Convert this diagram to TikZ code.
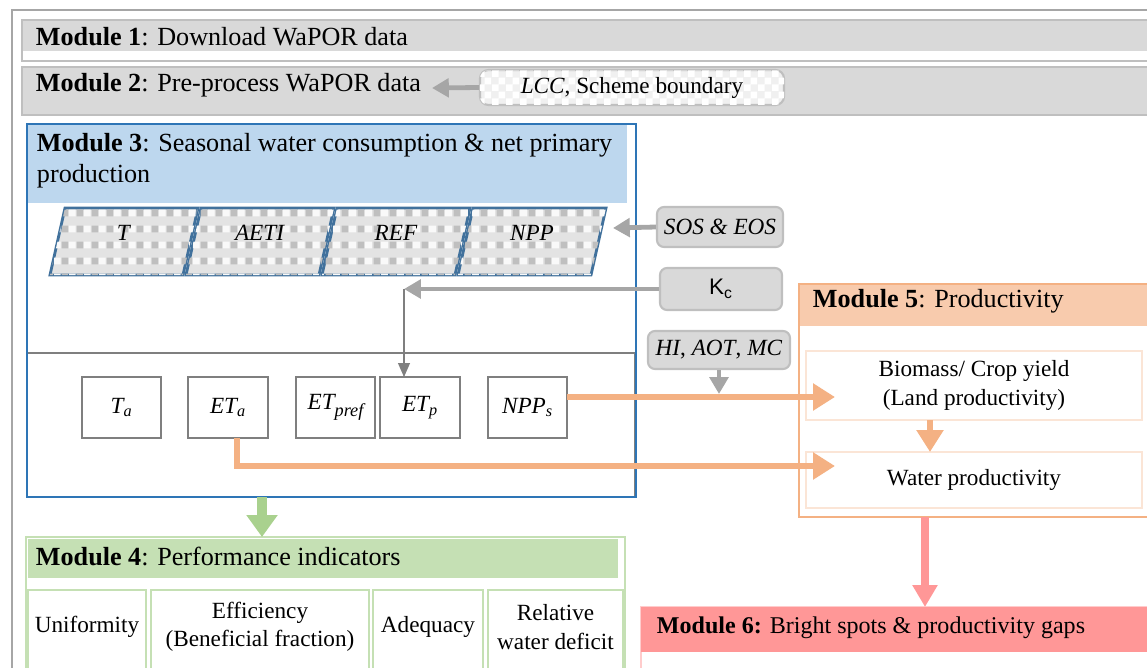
\documentclass[tikz,border=0pt]{standalone}
\usepackage{fontspec}
\setmainfont{Liberation Serif}
\setsansfont{Liberation Sans}
\usetikzlibrary{arrows.meta,fit,patterns}

\definecolor{framegray}{HTML}{A6A6A6}
\definecolor{barfill}{HTML}{D9D9D9}
\definecolor{barline}{HTML}{BFBFBF}
\definecolor{boxgray}{HTML}{7F7F7F}
\definecolor{mthree}{HTML}{2E75B6}
\definecolor{mthreefill}{HTML}{BDD7EE}
\definecolor{parline}{HTML}{41719C}
\definecolor{mfive}{HTML}{F4B183}
\definecolor{mfivefill}{HTML}{F8CBAD}
\definecolor{mfivebox}{HTML}{FBE5D6}
\definecolor{mfour}{HTML}{A9D18E}
\definecolor{mfourfill}{HTML}{C5E0B4}
\definecolor{msix}{HTML}{FF9797}
\definecolor{msixline}{HTML}{FFCCCC}

% checker for the input layers
\pgfdeclarepatternformonly{checks}{\pgfqpoint{0pt}{0pt}}{\pgfqpoint{10pt}{10pt}}{\pgfqpoint{10pt}{10pt}}{%
  \pgfpathrectangle{\pgfqpoint{0pt}{0pt}}{\pgfqpoint{5pt}{5pt}}%
  \pgfpathrectangle{\pgfqpoint{5pt}{5pt}}{\pgfqpoint{5pt}{5pt}}%
  \pgfusepath{fill}}
% tile rows for the seasonal layers
\pgfdeclarepatternformonly{tilesdark}{\pgfqpoint{0pt}{0pt}}{\pgfqpoint{11pt}{11pt}}{\pgfqpoint{11pt}{11pt}}{%
  \pgfpathrectangle{\pgfqpoint{0.5pt}{0.5pt}}{\pgfqpoint{4.8pt}{4.8pt}}%
  \pgfusepath{fill}}
\pgfdeclarepatternformonly{tileslight}{\pgfqpoint{0pt}{0pt}}{\pgfqpoint{11pt}{11pt}}{\pgfqpoint{11pt}{11pt}}{%
  \pgfpathrectangle{\pgfqpoint{6pt}{0.5pt}}{\pgfqpoint{4.8pt}{4.8pt}}%
  \pgfusepath{fill}}

\begin{document}
\begin{tikzpicture}[x=0.025cm,y=-0.025cm,
  hd/.style={anchor=west,font=\fontsize{18.6}{22}\selectfont},
  txt/.style={font=\fontsize{16.5}{20}\selectfont},
  fbox/.style={inner sep=0pt},
  smallbox/.style={fbox,draw=boxgray,line width=1.5pt,fill=white,txt},
  inbox/.style={fbox,draw=barline,line width=1.5pt,fill=barfill,rounded corners=5pt,txt},
  grayarrow/.style={draw=framegray,line width=0.12cm,-{Triangle[length=0.42cm,width=0.46cm]}},
  orangearrow/.style={draw=mfive,line width=0.15cm,-{Triangle[length=0.55cm,width=0.65cm]}}]
\useasboundingbox (0,0) rectangle (1147,667);

% outer frame
\draw[framegray,line width=2pt] (12,10) rectangle (1170,690);

% module 1 and 2
\node[fit={(22,20) (1160,61)},fbox,draw=barline,line width=1pt] (m1) {};
\fill[barfill] (22.5,20.5) rectangle (1160,51);
\node[hd] (m1t) at (31,37) {\textbf{Module 1}: Download WaPOR data};
\node[fit={(22,67) (1160,115)},fbox,draw=barline,fill=barfill,line width=1pt] (m2) {};
\node[hd] (m2t) at (31,85) {\textbf{Module 2}: Pre-process WaPOR data};
\node[fit={(480,70) (784,105)},fbox,draw=barline,line width=1.5pt,rounded corners=6pt,
  fill=barfill!40,postaction={pattern=checks,pattern color=white}] (lcc) {};
\node[txt] at (lcc) {\textit{LCC}, Scheme boundary};
\coordinate (m2in) at (432,88);
\draw[grayarrow] (lcc.west) -- (m2in);

% module 3
\fill[mthreefill] (27,124) rectangle (627,203);
\node[anchor=north west,align=left,hd,anchor=north west] (m3t) at (32,128)
  {\textbf{Module 3}: Seasonal water consumption \& net primary\\production};
\node[fit={(27,353) (635,497)},fbox,draw=boxgray,line width=1.5pt] (m3low) {};
\node[fit={(27,124) (636,497)},fbox,draw=mthree,line width=1.5pt] (m3) {};

% seasonal layers
\foreach \x/\name/\lab in {50/t/T, 186/aeti/AETI, 322/ref/REF, 458/npp/NPP}{
  \filldraw[draw=parline,line width=2pt,fill=gray!22,
    postaction={pattern=tilesdark,pattern color=barline},
    postaction={pattern=tileslight,pattern color=gray!5}]
    (\x,275) -- (\x+15,208) -- (\x+148,208) -- (\x+133,275) -- cycle;
  \node[txt] (\name) at (\x+74,233) {\textit{\lab}};
}

\node[fit={(657,207) (783,247)},inbox] (sos) {};
\node[txt] at (sos) {\textit{SOS \& EOS}};
\coordinate (nppin) at (613,228);
\draw[grayarrow] (sos.west) -- (nppin);

\node[fit={(660,268) (782,310)},inbox] (kc) {};
\node[font=\sffamily\fontsize{16}{19}\selectfont] at (kc) {K\textsubscript{c}};

% seasonal values
\node[fit={(82,377) (161,438)},smallbox] (ta) {};
\node[txt] at (ta) {\textit{T\textsubscript{a}}};
\node[fit={(188,377) (268,438)},smallbox] (eta) {};
\node[txt] at (eta) {\textit{ET\textsubscript{a}}};
\node[fit={(296,377) (375,438)},smallbox] (etpref) {};
\node[txt] at (etpref) {\textit{ET\raisebox{-0.7ex}{\fontsize{13}{15}\selectfont pref}}};
\node[fit={(380,377) (460,438)},smallbox] (etp) {};
\node[txt] at (etp) {\textit{ET\textsubscript{p}}};
\node[fit={(488,377) (567,438)},smallbox] (npps) {};
\node[txt] at (npps) {\textit{NPP\textsubscript{s}}};

\coordinate (kcin) at (404,289);
\coordinate (etpin) at (404,377);
\draw[grayarrow] (kc.west) -- (kcin);
\draw[boxgray,line width=0.8pt,-{Triangle[length=0.35cm,width=0.3cm]}] (kcin) -- (etpin);

% module 5
\node[fit={(799,284) (1170,517)},fbox,draw=mfive,line width=1.5pt] (m5) {};
\fill[mfivefill] (800,285) rectangle (1160,326);
\node[hd] (m5t) at (808,301) {\textbf{Module 5}: Productivity};
\node[fit={(806,351) (1142,420)},fbox,draw=mfivebox,line width=1.5pt,fill=white] (bio) {};
\node[txt,align=center] at (bio) {Biomass/ Crop yield\\(Land productivity)};
\node[fit={(806,452) (1142,508)},fbox,draw=mfivebox,line width=1.5pt,fill=white] (wp) {};
\node[txt] at (wp) {Water productivity};

\node[fit={(648,331) (790,369)},inbox] (hi) {};
\node[txt] at (hi) {\textit{HI}, \textit{AOT}, \textit{MC}};
\coordinate (hiout) at (719,394);

\coordinate (bioin) at (835,397);
\coordinate (nppsout) at (567,397);
\coordinate (wpin) at (835,466);
\coordinate (etaout) at (237,438);
\coordinate (etaturn) at (237,466);
\coordinate (bioout) at (930,420);
\coordinate (wptop) at (930,452);
\draw[orangearrow] (nppsout) -- (bioin);
\draw[orangearrow] (etaout) -- (etaturn) -- (wpin);
\draw[grayarrow] (hi.south -| hiout) -- (hiout);
\draw[orangearrow] (bioout) -- (wptop);

% module 4
\node[fit={(26,537) (625,690)},fbox,draw=mfourfill,line width=1.5pt] (m4) {};
\fill[mfourfill] (28,539) rectangle (618,578);
\node[hd] (m4t) at (31,556) {\textbf{Module 4}: Performance indicators};
\foreach \xa/\xb/\name/\lab in {28/146/unif/Uniformity, 151/369/effi/{Efficiency\\(Beneficial fraction)},
  373/483/adeq/Adequacy, 488/623/rwd/{Relative\\water deficit}}{
  \node[fit={(\xa,590) (\xb,690)},fbox,draw=mfourfill,line width=1.5pt] (\name) {};
  \node[txt,align=center] at (\xa/2+\xb/2,627) {\lab};
}
\coordinate (m3out) at (262,497);
\coordinate (m4in) at (262,537);
\draw[draw=mfour,line width=0.25cm,-{Triangle[length=0.55cm,width=0.75cm]}] (m3out) -- (m4in);

% module 6
\node[fit={(641,607) (1170,690)},fbox,draw=msixline,line width=1.5pt] (m6) {};
\fill[msix] (641,607) rectangle (1160,652);
\node[hd,font=\fontsize{17.1}{20}\selectfont] (m6t) at (652,628) {\textbf{Module 6:} Bright spots \& productivity gaps};
\coordinate (m5out) at (925,517);
\coordinate (m6in) at (925,607);
\draw[draw=msix,line width=0.2cm,-{Triangle[length=0.55cm,width=0.6cm]}] (m5out) -- (m6in);
\end{tikzpicture}
\end{document}
